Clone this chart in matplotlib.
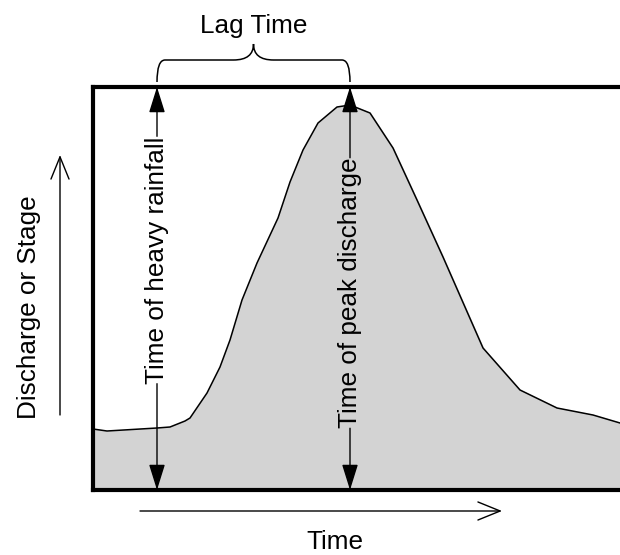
import matplotlib
matplotlib.use("Agg")
import matplotlib.pyplot as plt
from matplotlib.path import Path
from matplotlib.patches import PathPatch

# Hydrograph (time, discharge) in arbitrary units
time = [0, 14, 64, 77, 92, 97, 114, 127, 137, 149, 164, 185, 197, 210, 225,
        244, 257, 277, 300, 324, 350, 390, 427, 464, 500, 527]
discharge = [61, 59, 62, 63, 69, 72, 97, 123, 150, 190, 227, 272, 308, 340, 367,
             383, 385, 377, 342, 290, 233, 142, 100, 82, 75, 67]
rain_time = 64
peak_time = 257
labels = {"lag": "Lag Time", "x": "Time", "y": "Discharge or Stage",
          "rain": "Time of heavy rainfall", "peak": "Time of peak discharge"}

W, H = 620, 555
plt.rcParams['font.family'] = ['Liberation Sans', 'DejaVu Sans']
fs = 18.8
fig = plt.figure(figsize=(W / 100, H / 100), dpi=100)
ax = fig.add_axes([93 / W, 65 / H, 530 / W, 403 / H])
ax.set_xlim(0, 530)
ax.set_ylim(0, 403)
ax.set_xticks([])
ax.set_yticks([])
for s in ax.spines.values():
    s.set_linewidth(3)
    s.set_zorder(5)

ax.fill_between(time, discharge, 0, color='#d3d3d3', zorder=1)
ax.plot(time, discharge, color='black', lw=1.1, zorder=2)

fig.canvas.draw()
renderer = fig.canvas.get_renderer()


def marker_line(t, center, text):
    txt = ax.text(t, center, text, rotation=90, ha='center', va='center',
                  fontsize=fs, zorder=4)
    bb = txt.get_window_extent(renderer).transformed(ax.transData.inverted())
    head = dict(arrowstyle='-|>,head_length=1.6,head_width=0.5', color='black',
                lw=1.0, mutation_scale=10, shrinkA=0, shrinkB=0)
    ax.annotate('', xy=(t, 403), xytext=(t, bb.y1), arrowprops=head,
                annotation_clip=False, zorder=6)
    ax.annotate('', xy=(t, 0), xytext=(t, bb.y0), arrowprops=head,
                annotation_clip=False, zorder=6)


marker_line(rain_time, 230, labels["rain"])
marker_line(peak_time, 197, labels["peak"])

# Brace for lag time (above the box)
x0, x1 = rain_time, peak_time
xm = (x0 + x1) / 2
yb, yh, yt = 408, 430, 446
verts = [(x0, yb), (x0, yh), (x0 + 8, yh),
         (xm - 20, yh), (xm, yh), (xm, yt),
         (xm, yh), (xm + 20, yh),
         (x1 - 8, yh), (x1, yh), (x1, yb)]
codes = [Path.MOVETO, Path.CURVE3, Path.CURVE3,
         Path.LINETO, Path.CURVE3, Path.CURVE3,
         Path.CURVE3, Path.CURVE3,
         Path.LINETO, Path.CURVE3, Path.CURVE3]
ax.add_patch(PathPatch(Path(verts, codes), fill=False, lw=1.1, color='black',
                       clip_on=False))
ax.text(xm, 457, labels["lag"], ha='center', va='baseline', fontsize=fs)

# Outer axis arrows and labels
fig.text(29 / W, 1 - 307 / H, labels["y"], rotation=90, ha='center', va='center',
         fontsize=fs)
fig.text(335 / W, 1 - 549 / H, labels["x"], ha='center', va='baseline', fontsize=fs)
open_head = dict(arrowstyle='->,head_length=1.6,head_width=0.65', color='black',
                 lw=1.0, mutation_scale=10, shrinkA=0, shrinkB=0)
ax.annotate('', xy=(60 / W, 1 - 155 / H), xytext=(60 / W, 1 - 415 / H),
            xycoords='figure fraction', arrowprops=open_head)
ax.annotate('', xy=(502 / W, 1 - 511 / H), xytext=(140 / W, 1 - 511 / H),
            xycoords='figure fraction', arrowprops=open_head)

fig.savefig('out.png', dpi=100)
